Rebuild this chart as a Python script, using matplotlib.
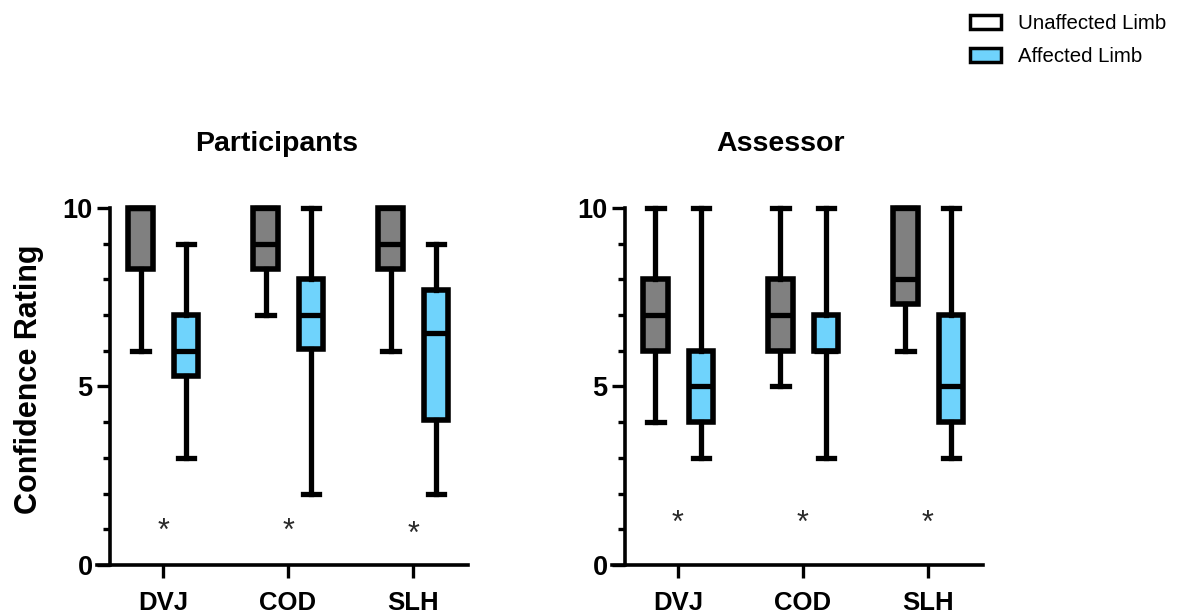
import matplotlib
matplotlib.use("Agg")
import matplotlib.pyplot as plt
from matplotlib.patches import Patch
from matplotlib.ticker import MultipleLocator

plt.rcParams['font.family'] = ['Liberation Sans', 'DejaVu Sans']

# datos
categorias = ['DVJ', 'COD', 'SLH']
paneles = ['Participants', 'Assessor']

# Participants - Unaffected / Affected: min, q1, mediana, q3, max
part_sano_min = [6, 7, 6]
part_sano_q1 = [8.3, 8.3, 8.3]
part_sano_med = [10, 9, 9]
part_sano_q3 = [10, 10, 10]
part_sano_max = [10, 10, 10]

part_afect_min = [3, 2, 2]
part_afect_q1 = [5.3, 6.05, 4.05]
part_afect_med = [6, 7, 6.5]
part_afect_q3 = [7, 8, 7.7]
part_afect_max = [9, 10, 9]

# Assessor
eval_sano_min = [4, 5, 6]
eval_sano_q1 = [6, 6, 7.3]
eval_sano_med = [7, 7, 8]
eval_sano_q3 = [8, 8, 10]
eval_sano_max = [10, 10, 10]

eval_afect_min = [3, 3, 3]
eval_afect_q1 = [4, 6, 4]
eval_afect_med = [5, 6, 5]
eval_afect_q3 = [6, 7, 7]
eval_afect_max = [10, 10, 10]

# posicion de los asteriscos
part_asterisco_y = [0.93, 0.93, 0.84]
eval_asterisco_y = [1.16, 1.16, 1.16]

color_sano = '#808080'
color_afect = '#6fd3fc'


def hacer_stats(mins, q1s, meds, q3s, maxs):
    stats = []
    for a, b, c, d, e in zip(mins, q1s, meds, q3s, maxs):
        stats.append(dict(whislo=a, q1=b, med=c, q3=d, whishi=e, fliers=[]))
    return stats


datos = [
    (hacer_stats(part_sano_min, part_sano_q1, part_sano_med, part_sano_q3, part_sano_max),
     hacer_stats(part_afect_min, part_afect_q1, part_afect_med, part_afect_q3, part_afect_max),
     part_asterisco_y),
    (hacer_stats(eval_sano_min, eval_sano_q1, eval_sano_med, eval_sano_q3, eval_sano_max),
     hacer_stats(eval_afect_min, eval_afect_q1, eval_afect_med, eval_afect_q3, eval_afect_max),
     eval_asterisco_y),
]

fig = plt.figure(figsize=(11.97, 6.13), dpi=100)
posiciones_ejes = [[0.0919, 0.0783, 0.2991, 0.5824], [0.5221, 0.0783, 0.2991, 0.5824]]
titulo_x = [0.464, 0.434]

x = list(range(len(categorias)))
for i, (sano, afect, ast_y) in enumerate(datos):
    ax = fig.add_axes(posiciones_ejes[i])
    for stats, desp, color in [(sano, -0.18, color_sano), (afect, 0.185, color_afect)]:
        art = ax.bxp(stats, positions=[p + desp for p in x], widths=0.195, capwidths=0.13,
                     patch_artist=True, showfliers=False,
                     boxprops=dict(facecolor=color, edgecolor='black', linewidth=4.0),
                     medianprops=dict(color='black', linewidth=3.8),
                     whiskerprops=dict(color='black', linewidth=3.8),
                     capprops=dict(color='black', linewidth=3.8))
        for grupo in art.values():
            for a in grupo:
                a.set_clip_on(False)
    for xi, yi in zip(x, ast_y):
        ax.text(xi, yi, '*', ha='center', va='center', fontsize=22, color='#2a2a2a')

    ax.set_xlim(-0.424, 2.44)
    ax.set_ylim(0, 10)
    ax.set_xticks(x)
    ax.set_xticklabels(categorias, fontsize=18.5, fontweight='bold')
    ax.set_yticks([0, 5, 10])
    ax.set_yticklabels(['0', '5', '10'], fontsize=19.5, fontweight='bold')
    ax.yaxis.set_minor_locator(MultipleLocator(1))
    ax.tick_params(axis='both', which='major', length=9.5, width=2.4, direction='out')
    ax.tick_params(axis='y', which='minor', length=5, width=2.4)
    ax.tick_params(axis='x', pad=9)
    ax.tick_params(axis='y', pad=3)
    for lado in ['top', 'right']:
        ax.spines[lado].set_visible(False)
    for lado in ['left', 'bottom']:
        ax.spines[lado].set_linewidth(2.6)
    ax.spines['bottom'].set_bounds(-0.528, 2.44)
    ax.text(titulo_x[i], 1.18, paneles[i], transform=ax.transAxes, ha='center', va='center',
            fontsize=20.5, fontweight='bold')
    if i == 0:
        ax.set_ylabel('Confidence Rating', fontsize=22, fontweight='bold')
        ax.yaxis.set_label_coords(-0.185, 0.52)

manijas = [Patch(facecolor='white', edgecolor='black', linewidth=2.5, label='Unaffected Limb'),
           Patch(facecolor=color_afect, edgecolor='black', linewidth=2.5, label='Affected Limb')]
fig.legend(handles=manijas, loc='upper left', bbox_to_anchor=(0.8104, 0.977), frameon=False,
           fontsize=14.7, handlelength=1.5, handleheight=0.72, handletextpad=0.85,
           labelspacing=0.68, borderpad=0, borderaxespad=0)

fig.savefig('out.png', dpi=100)
